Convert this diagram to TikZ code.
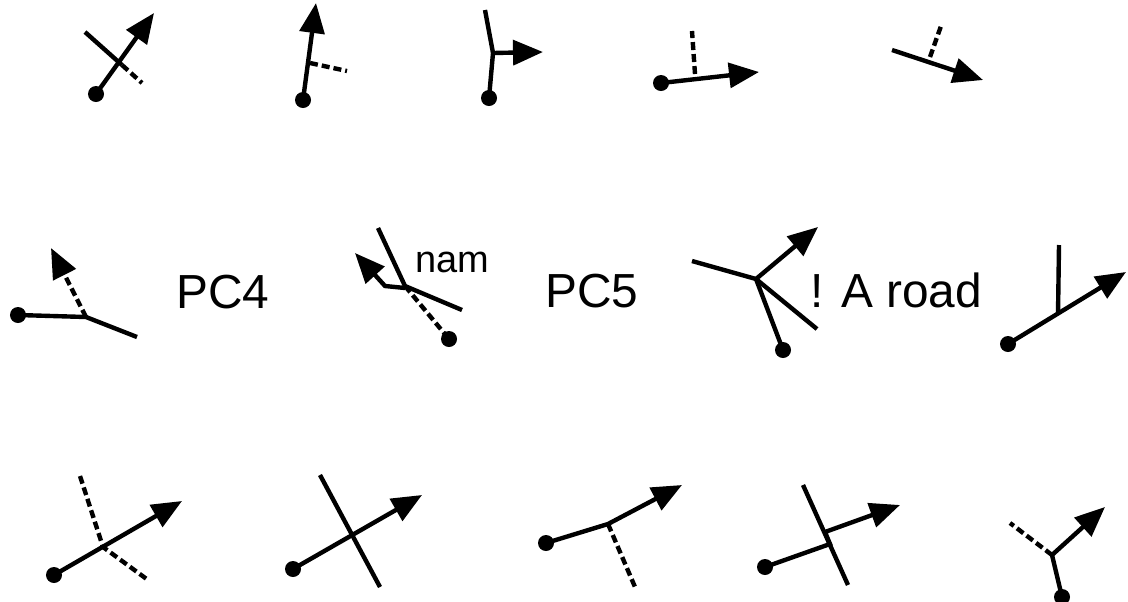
\documentclass[tikz,border=0pt]{standalone}
\usepackage{fontspec}
\setmainfont{Liberation Sans}
\usetikzlibrary{arrows.meta}

\begin{document}
\begin{tikzpicture}[x=0.025cm,y=-0.025cm,
        road/.style={line width=1.1mm},
        link/.style={road, dash pattern=on 2mm off 1mm},
        tip/.style={-{Triangle[length=7.5mm,width=6.2mm]}},
        way/.style={road,tip},
        big/.style={font=\fontsize{34}{40}\selectfont},
        small/.style={font=\fontsize{27}{32}\selectfont}]
            \useasboundingbox (0,0) rectangle (1128,601);

            % top row
            \draw[way] (96,94) -- (154,13);
            \draw[road] (85,32) -- (122,65);
            \draw[link] (122,65) -- (142,83);

            \draw[way] (303,100) -- (316,3);
            \draw[link] (310,63) -- (347,71);

            \draw[road] (489,98) -- (493,53) -- (485,10);
            \draw[way] (493,53) -- (543,52);

            \draw[way] (661,83) -- (759,72);
            \draw[link] (695,74) -- (692,31);

            \draw[way] (892,50) -- (983,80);
            \draw[link] (930,57) -- (941,26);

            % middle row
            \draw[road] (18,315) -- (86,317) -- (137,337);
            \draw[link,tip] (86,317) -- (51,248);
            \node[big] (pcfour) at (223,292) {PC4};

            \draw[road] (378,228) -- (405,286) -- (462,310);
            \draw[link] (405,286) -- (449,339);
            \draw[way] (405,288) -- (385,286) -- (355,253);
            \node[small] (nam) at (452,262) {nam};

            \node[big] (pcfive) at (592,291) {PC5};

            \draw[road] (692,261) -- (756,279) -- (817,329);
            \draw[road] (756,279) -- (783,350);
            \draw[way] (756,279) -- (818,227);
            \node[big] (aroad) at (896,290) {! A road};

            \draw[way] (1008,344) -- (1126,272);
            \draw[road] (1058,314) -- (1059,245);

            % bottom row
            \draw[way] (54,575) -- (182,501);
            \draw[link] (80,476) -- (103,547) -- (148,580);

            \draw[way] (293,569) -- (422,495);
            \draw[road] (320,475) -- (380,587);

            \draw[way] (546,543) -- (608,524) -- (682,485);
            \draw[link] (608,524) -- (635,587);

            \draw[road] (803,485) -- (848,585);
            \draw[way] (765,567) -- (830,544) -- (825,532) -- (900,505);

            \draw[way] (1052,555) -- (1105,507);
            \draw[road] (1052,555) -- (1062,597);
            \draw[link] (1052,555) -- (1010,523);

            \foreach \p in {(96,94),(303,100),(489,98),(661,83),(18,315),(449,339),(783,350),
                    (1008,344),(54,575),(293,569),(546,543),(765,567),(1062,597)} {
                    \fill \p circle (2mm);
                }
        \end{tikzpicture}
\end{document}
